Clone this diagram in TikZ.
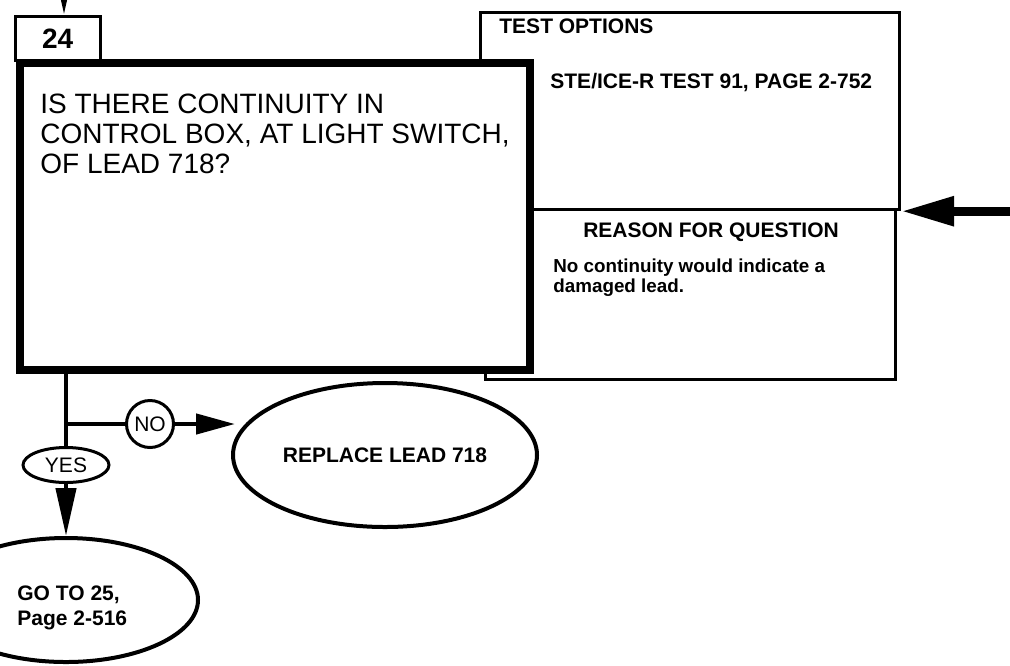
\documentclass[tikz,border=0pt]{standalone}
\usepackage{fontspec}
\setmainfont{Liberation Sans}
\usetikzlibrary{arrows.meta,shapes.geometric}

\begin{document}
\begin{tikzpicture}[x=0.5pt,y=-0.5pt,
      box/.style={draw,line width=1.6pt,fill=white,inner sep=0pt,anchor=north west},
      ell/.style={draw,ellipse,line width=2pt,inner sep=0pt,fill=white},
      qst/.style={font=\fontsize{14}{15}\selectfont,anchor=base west,inner sep=0pt},
      lbl/.style={font=\bfseries\fontsize{10.5}{12.5}\selectfont,inner sep=0pt},
      sml/.style={font=\bfseries\fontsize{9.4}{11}\selectfont,anchor=base west,inner sep=0pt},
      yn/.style={font=\fontsize{10.5}{12}\selectfont,line width=1.5pt,draw,fill=white,inner sep=0pt},
      wire/.style={line width=2.2pt}]
    \useasboundingbox (0,0) rectangle (1010,665);
    % --- riquadri a destra ---
    \node[box,minimum width=209.5pt,minimum height=98.5pt] (opt) at (479,11) {};
    \node[box,minimum width=205pt,minimum height=85pt] (reas) at (484,208) {};
    \node[lbl,anchor=base west] (optT) at (499,33) {TEST OPTIONS};
    \node[lbl,anchor=base west] (optS) at (550,88) {STE/ICE-R TEST 91, PAGE 2-752};
    \node[lbl,anchor=base] (reasT) at (711,237) {REASON FOR QUESTION};
    \node[sml] (reas1) at (553,272) {No continuity would indicate a};
    \node[sml] (reas2) at (553,292) {damaged lead.};
    % --- riquadro 24 e domanda ---
    \node[box,minimum width=42.5pt,minimum height=22.25pt,
          font=\bfseries\fontsize{14}{14}\selectfont] (num) at (13.5,14.5) {24};
    \node[box,line width=4pt,minimum width=255pt,minimum height=153.5pt] (quest) at (16,59) {};
    \foreach \y/\t in {113/{IS THERE CONTINUITY IN},
        143/{CONTROL BOX, AT LIGHT SWITCH,}, 173/{OF LEAD 718?}}{
      \node[qst] (q\y) at (40,\y) {\t};
    }
    % --- esiti ---
    \node[yn,ellipse,minimum width=43pt,minimum height=17.5pt] (yes) at (66,465) {YES};
    \node[yn,circle,minimum size=23.5pt] (no) at (150,424) {NO};
    \node[ell,lbl,minimum width=152pt,minimum height=72pt] (repl) at (385,455) {REPLACE LEAD 718};
    \node[ell,minimum width=132pt,minimum height=62pt] (goto) at (66,600) {};
    \node[lbl,anchor=base west] (goto1) at (17,600) {GO TO 25,};
    \node[lbl,anchor=base west] (goto2) at (17,625) {Page 2-516};
    % --- collegamenti ---
    \coordinate (in) at (64,-40);
    \coordinate (feed) at (1015,0);
    \draw[wire,-{Triangle[length=24pt,width=10pt]}] (in) -- (in |- num.north);
    \draw[line width=4.5pt,-{Triangle[length=26.5pt,width=14pt]}] (feed |- opt.south east) -- (opt.south east);
    \draw[wire] (quest.south -| yes.north) -- (yes.north);
    \draw[wire] (yes.north |- no.west) -- (no.west);
    \draw[wire,-{Triangle[length=19.5pt,width=10pt]}] (no.east) -- ([xshift=2pt]repl.west |- no.east);
    \draw[wire,-{Triangle[length=24pt,width=10pt]}] (yes.south) -- (goto.north);
  \end{tikzpicture}
\end{document}
